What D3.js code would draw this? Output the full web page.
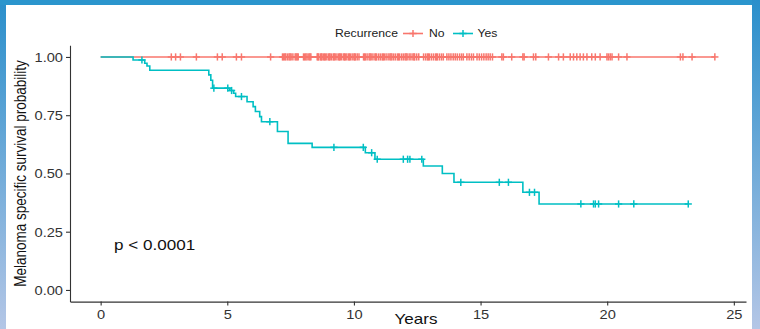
<!DOCTYPE html>
<html>
<head>
<meta charset="utf-8">
<script src="https://cdn.jsdelivr.net/npm/d3@7"></script>
<style>
  html, body { margin: 0; padding: 0; background: #fff; }
  svg { display: block; font-family: "Liberation Sans", Arial, sans-serif; }
</style>
</head>
<body>
<div id="chart"></div>
<script>
// Kaplan-Meier data
const groups = ['No', 'Yes'];
const colors = ['#F8766D', '#00BFC4'];

// Yes: event times and survival after each step
const yesTimes = [1.28, 1.74, 1.83, 1.94, 4.27, 4.35, 4.42, 5.1, 5.25, 5.33, 5.78, 6.02, 6.11, 6.28, 6.35, 6.98, 7.4, 8.35, 10.45, 10.83, 12.74, 13.49, 13.95, 16.67, 17.31];
const yesSurv = [0.987, 0.973, 0.961, 0.943, 0.923, 0.9, 0.866, 0.856, 0.844, 0.83, 0.808, 0.787, 0.766, 0.744, 0.722, 0.68, 0.629, 0.612, 0.589, 0.561, 0.532, 0.5, 0.462, 0.419, 0.369];
const yesCensor = [1.63, 4.47, 5.02, 5.17, 5.56, 6.68, 9.21, 10.37, 10.7, 10.92, 11.95, 12.12, 12.21, 12.68, 14.22, 15.74, 16.1, 16.93, 17.13, 18.96, 19.46, 19.53, 19.66, 20.45, 21.05, 23.2];

// No: no events, censoring only
const noTimes = [];
const noSurv = [];
const noCensor = [2.79, 2.96, 3.15, 3.78, 4.61, 4.8, 5.36, 5.56, 6.71,
  7.18, 7.22, 7.27, 7.31, 7.38, 7.44, 7.48, 7.52, 7.59, 7.68, 7.72, 7.76, 7.8,
  8.01, 8.05, 8.1, 8.15, 8.22, 8.26, 8.3,
  8.55, 8.58, 8.61, 8.68, 8.71, 8.74, 8.8, 8.84, 8.87, 8.93, 9.0, 9.03, 9.06, 9.12, 9.19, 9.22, 9.26, 9.33, 9.4, 9.43, 9.46, 9.52, 9.6, 9.63, 9.66, 9.72, 9.79, 9.82, 9.86, 9.93, 10.0, 10.03, 10.06, 10.13, 10.2,
  10.38, 10.42, 10.45, 10.52, 10.6, 10.64, 10.68, 10.75, 10.83, 10.86, 10.9,
  10.98, 11.05, 11.12, 11.16, 11.2, 11.27, 11.35, 11.42, 11.46, 11.5, 11.57, 11.64, 11.72, 11.76, 11.8, 11.88, 11.95, 12.02, 12.06, 12.1, 12.18, 12.25, 12.33, 12.37, 12.4, 12.48, 12.56,
  12.75, 12.83, 12.9, 12.94, 12.98, 13.06, 13.14, 13.22, 13.26, 13.3, 13.38, 13.46, 13.53,
  13.67, 13.75, 13.83, 13.92, 14.0, 14.08, 14.17, 14.25, 14.32,
  14.46, 14.55, 14.64, 14.72,
  14.86, 14.95, 15.04, 15.13, 15.22, 15.3, 15.38, 15.47,
  15.84, 15.9, 16.23, 16.67, 16.72, 17.09, 17.18, 17.68, 18.08, 18.27, 18.54, 18.67, 18.8, 18.93, 19.06, 19.2, 19.39, 19.53, 19.72, 19.99, 20.05, 20.12, 20.19, 20.45, 20.78, 22.89, 22.99, 23.35, 24.25];

const xTicks = [0, 5, 10, 15, 20, 25];
const yTicks = [0, 0.25, 0.5, 0.75, 1];
const pLabel = 'p < 0.0001';

const W = 760, H = 329;
const stretch = 1.22; // the source figure is horizontally stretched

const svg = d3.select('#chart').append('svg')
  .attr('width', W).attr('height', H);

// frame strips from the screenshot
const grad = svg.append('defs').append('linearGradient')
  .attr('id', 'side').attr('x1', 0).attr('x2', 0).attr('y1', 0).attr('y2', 1);
grad.append('stop').attr('offset', '0%').attr('stop-color', '#2a8fcb');
grad.append('stop').attr('offset', '100%').attr('stop-color', '#b4c6e6');
svg.append('rect').attr('x', 0).attr('y', 0).attr('width', 6).attr('height', H).attr('fill', 'url(#side)');
svg.append('rect').attr('x', 0).attr('y', 0).attr('width', W).attr('height', 5).attr('fill', '#2b95cd');
svg.append('rect').attr('x', 752).attr('y', 0).attr('width', 8).attr('height', H).attr('fill', 'url(#side)');

const x = d3.scaleLinear().domain([-1.21, 25.48]).range([70, 746]);
const y = d3.scaleLinear().domain([-0.05, 1.05]).range([301.6, 45.3]);

// axes
const xAxis = svg.append('g')
  .attr('transform', `translate(0,${y.range()[0]})`)
  .call(d3.axisBottom(x).tickValues(xTicks).tickSize(4).tickSizeOuter(0).tickFormat(d3.format('d')));
const yAxis = svg.append('g')
  .attr('transform', `translate(${x.range()[0]},0)`)
  .call(d3.axisLeft(y).tickValues(yTicks).tickSize(4).tickSizeOuter(0).tickFormat(d3.format('.2f')));

[xAxis, yAxis].forEach(g => {
  g.select('.domain').attr('stroke', '#333').attr('stroke-width', 1.1);
  g.selectAll('.tick line').attr('stroke', '#333').attr('stroke-width', 1.1);
  g.selectAll('.tick text').attr('fill', '#333').attr('font-size', 12).attr('font-family', null);
});
xAxis.selectAll('.tick text')
  .attr('dy', null).attr('y', 0)
  .attr('transform', `translate(0,17) scale(${stretch},1)`);
yAxis.selectAll('.tick text')
  .attr('x', 0).attr('dy', '0.36em')
  .attr('transform', `translate(-7,0) scale(${stretch},1)`);

// axis titles
svg.append('text')
  .attr('transform', `translate(416,324) scale(${stretch},1)`)
  .attr('text-anchor', 'middle').attr('font-size', 14).attr('fill', '#111')
  .text('Years');
svg.append('text')
  .attr('transform', `translate(26,${(y.range()[0] + y.range()[1]) / 2}) scale(${stretch},1) rotate(-90)`)
  .attr('text-anchor', 'middle').attr('font-size', 13.5).attr('fill', '#111')
  .text('Melanoma specific survival probability');

// curves
const line = d3.line().x(d => x(d[0])).y(d => y(d[1])).curve(d3.curveStepAfter);

function stepPoints(times, surv, censor) {
  const end = d3.max([d3.max(times) || 0, d3.max(censor) || 0]);
  const pts = [[0, 1]];
  times.forEach((t, i) => pts.push([t, surv[i]]));
  pts.push([end, surv.length ? surv[surv.length - 1] : 1]);
  return pts;
}
function survAt(times, surv, t) {
  const i = d3.bisectRight(times, t);
  return i === 0 ? 1 : surv[i - 1];
}

const series = [
  { name: 'No', times: noTimes, surv: noSurv, censor: noCensor, color: colors[0] },
  { name: 'Yes', times: yesTimes, surv: yesSurv, censor: yesCensor, color: colors[1] }
];

series.forEach(s => {
  svg.append('path')
    .attr('d', line(stepPoints(s.times, s.surv, s.censor)))
    .attr('fill', 'none').attr('stroke', s.color).attr('stroke-width', 1.6);
});

function cross(g, cx, cy, color) {
  g.append('line').attr('x1', cx - 3.6).attr('x2', cx + 3.6).attr('y1', cy).attr('y2', cy)
    .attr('stroke', color).attr('stroke-width', 1.5);
  g.append('line').attr('x1', cx).attr('x2', cx).attr('y1', cy - 3.6).attr('y2', cy + 3.6)
    .attr('stroke', color).attr('stroke-width', 1.5);
}

series.forEach(s => {
  const g = svg.append('g').attr('class', 'censor-' + s.name);
  s.censor.forEach(t => cross(g, x(t), y(survAt(s.times, s.surv, t)), s.color));
});

// p-value
svg.append('text')
  .attr('transform', `translate(114,250) scale(${stretch},1)`)
  .attr('font-size', 14).attr('fill', '#111')
  .text(pLabel);

// legend
const legend = svg.append('g').attr('font-size', 10).attr('fill', '#222');
legend.append('text')
  .attr('transform', `translate(335,37) scale(${stretch},1)`)
  .text('Recurrence');
const keyX = [403, 453];
const labX = [429, 477.5];
groups.forEach((gname, i) => {
  legend.append('line').attr('x1', keyX[i]).attr('x2', keyX[i] + 20).attr('y1', 33.5).attr('y2', 33.5)
    .attr('stroke', colors[i]).attr('stroke-width', 1.6);
  cross(legend, keyX[i] + 10, 33.5, colors[i]);
  legend.append('text')
    .attr('transform', `translate(${labX[i]},37) scale(${stretch},1)`)
    .text(gname);
});
</script>
</body>
</html>
